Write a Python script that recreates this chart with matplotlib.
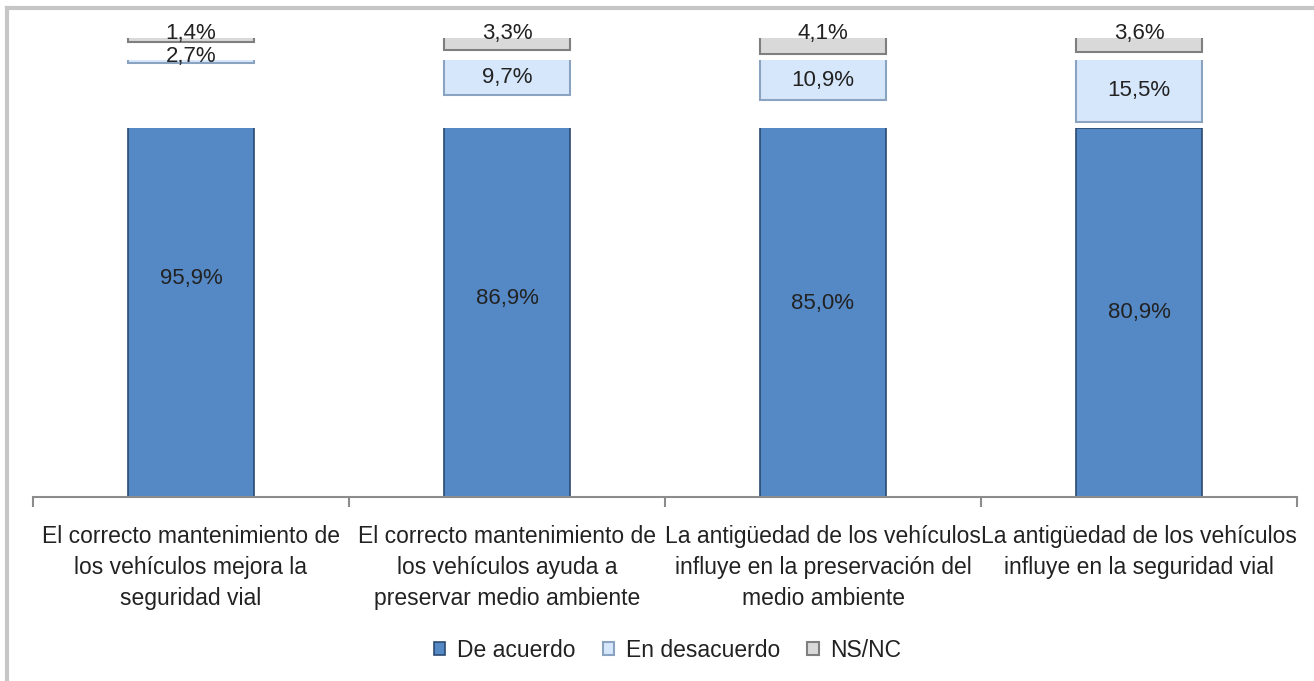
import matplotlib
matplotlib.use('Agg')
import matplotlib.pyplot as plt
from matplotlib.lines import Line2D
import numpy as np

categories = ['El correcto mantenimiento de\nlos vehículos mejora la\nseguridad vial',
              'El correcto mantenimiento de\nlos vehículos ayuda a\npreservar medio ambiente',
              'La antigüedad de los vehículos\ninfluye en la preservación del\nmedio ambiente',
              'La antigüedad de los vehículos\ninfluye en la seguridad vial']
de_acuerdo = [95.9, 86.9, 85.0, 80.9]
en_desacuerdo = [2.7, 9.7, 10.9, 15.5]
ns_nc = [1.4, 3.3, 4.1, 3.6]
series_names = ['De acuerdo', 'En desacuerdo', 'NS/NC']

plt.rcParams['font.family'] = ['Liberation Sans', 'DejaVu Sans']

W, H = 1314, 681
fig = plt.figure(figsize=(W / 100, H / 100), dpi=100)

def box(top, bottom):
    return [33 / W, 1 - bottom / H, 1264 / W, (bottom - top) / H]

# broken value axis: three windows stacked on top of each other
px = 4.6  # pixels per percentage point in the upper windows
ax_low = fig.add_axes(box(128, 497))
ax_mid = fig.add_axes(box(60, 127))
ax_top = fig.add_axes(box(38, 58))

x = np.arange(len(categories))
bw = 0.40
fs = 16
fs_cat = 16.5
txt = '#222222'

def lab(v):
    return '{:.1f}%'.format(v).replace('.', ',')

# De acuerdo
b1 = ax_low.bar(x, de_acuerdo, bw, color='#5589c6', edgecolor='#2b4a72', linewidth=1.2)
ax_low.set_ylim(0, min(de_acuerdo))
for i, v in enumerate(de_acuerdo):
    ax_low.text(i, v / 2, lab(v), ha='center', va='center', fontsize=fs, color=txt)

# En desacuerdo (window starts at 2.1)
o_mid = 2.1
b2 = ax_mid.bar(x, en_desacuerdo, bw, color='#d7e7fb', edgecolor='#8aa3c0', linewidth=1.5)
ax_mid.set_ylim(o_mid + 67 / px, o_mid)
for i, v in enumerate(en_desacuerdo):
    ax_mid.annotate(lab(v), (i, (o_mid + v) / 2), xytext=(0, 5 if v < 4 else 0),
                    textcoords='offset pixels', ha='center', va='center', fontsize=fs,
                    color=txt, annotation_clip=False, zorder=5)

# NS/NC (window starts at 0.6)
o_top = 0.6
b3 = ax_top.bar(x, ns_nc, bw, color='#d9d9d9', edgecolor='#7f7f7f', linewidth=1.5)
ax_top.set_ylim(o_top + 20 / px, o_top)
for i, v in enumerate(ns_nc):
    ax_top.annotate(lab(v), (i, o_top), xytext=(0, 4), textcoords='offset pixels',
                    ha='center', va='center', fontsize=fs, color=txt, annotation_clip=False)

for ax in (ax_low, ax_mid, ax_top):
    ax.set_xlim(-0.5, len(categories) - 0.5)
    ax.set_facecolor('none')
    for s in ax.spines.values():
        s.set_visible(False)
    ax.set_yticks([])
ax_mid.set_xticks([])
ax_top.set_xticks([])

ax_low.spines['bottom'].set_visible(True)
ax_low.spines['bottom'].set_color('#8c8c8c')
ax_low.spines['bottom'].set_linewidth(1.5)
ax_low.set_xticks(np.arange(len(categories) + 1) - 0.5)
ax_low.set_xticklabels([])
ax_low.tick_params(axis='x', which='major', length=7, width=1.5, color='#8c8c8c')
ax_low.set_xticks(x, minor=True)
ax_low.set_xticklabels(categories, minor=True, fontsize=fs_cat, color=txt, linespacing=1.45)
ax_low.tick_params(axis='x', which='minor', length=0, pad=20)

# outer frame (left and top only)
fig.add_artist(Line2D([7 / W, 7 / W], [0, 1 - 8 / H], transform=fig.transFigure,
                      color='#c6c6c6', lw=3))
fig.add_artist(Line2D([7 / W, 1], [1 - 8 / H, 1 - 8 / H], transform=fig.transFigure,
                      color='#c6c6c6', lw=3))

fig.legend([b1, b2, b3], series_names, loc='center', bbox_to_anchor=(0.508, 0.045),
           ncol=3, frameon=False, fontsize=fs_cat, handlelength=0.5, handleheight=0.5,
           handletextpad=0.5, columnspacing=1.2, labelcolor=txt)

fig.savefig('out.png', dpi=100, facecolor='white')
